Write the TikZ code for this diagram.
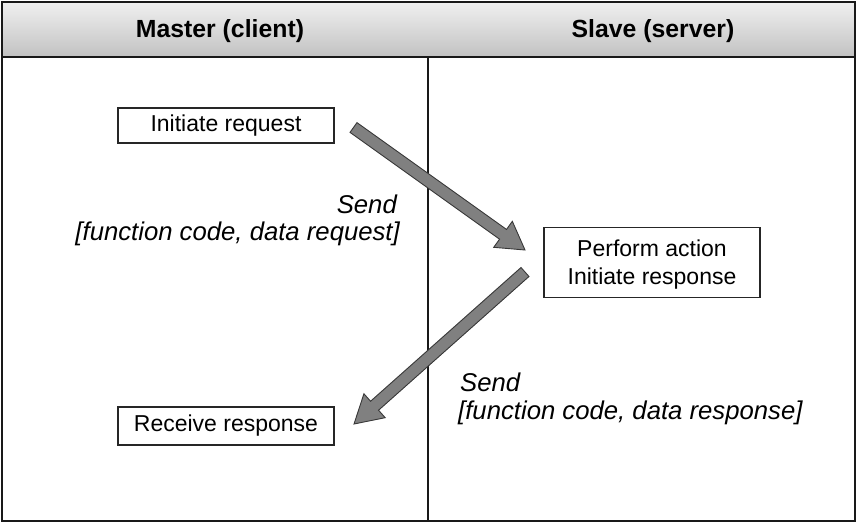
\documentclass[tikz,border=0pt]{standalone}
\usepackage{fontspec}
\setmainfont{Liberation Sans}
\usetikzlibrary{calc}
\tikzset{
  frame/.style={line width=2pt, draw=black!90},
  divider/.style={line width=1.6pt, draw=black!90},
  boxnode/.style={draw=black!85, line width=1.4pt, fill=white, inner sep=0pt,
    font=\fontsize{23}{27.5}\selectfont, align=center},
  headtext/.style={font=\bfseries\fontsize{24.8}{30}\selectfont, inner sep=0pt, anchor=base},
  captext/.style={font=\itshape\fontsize{25.7}{28}\selectfont, inner sep=0pt},
  blockarrow/.style={fill=black!50, draw=black!78, line width=0.9pt, line join=miter}
}
\begin{document}
\begin{tikzpicture}[x=1pt,y=-1pt]
\useasboundingbox (0,0) rectangle (858,525);
% header band
\shade[top color=black!6, bottom color=black!24] (2,2) rectangle (855,57);
\draw[frame] (2,57) -- (855,57);
\draw[frame] (2,2) rectangle (855,521);
\draw[divider] (428,57) -- (428,521);
% header texts
\node[headtext] (hm) at (220,37) {Master (client)};
\node[headtext] (hs) at (653,37) {Slave (server)};
% boxes
\node[boxnode, minimum width=216pt, minimum height=35pt] (req) at (226,125.5) {Initiate request};
\node[boxnode, minimum width=216pt, minimum height=70pt] (act) at (652,262.5) {\rule{0pt}{21pt}Perform action\\Initiate response};
\node[boxnode, minimum width=216pt, minimum height=38pt] (rcv) at (226,426) {Receive response};
% captions
\node[captext, anchor=base east] (s1) at (397,213) {Send};
\node[captext, anchor=base east] (f1) at (400,240) {[function code, data request]};
\node[captext, anchor=base west] (s2) at (460,391) {Send};
\node[captext, anchor=base west] (f2) at (458,419) {[function code, data response]};
% arrow 1
\coordinate (a1s) at (353.5,127.5);
\coordinate (a1e) at (525,250);
\coordinate (a1n) at ($(a1e)!27pt!(a1s)$);
\draw[blockarrow] ($(a1s)!6pt!90:(a1e)$) -- ($(a1n)!6pt!90:(a1e)$) -- ($(a1n)!16pt!90:(a1e)$)
  -- (a1e) -- ($(a1n)!16pt!-90:(a1e)$) -- ($(a1n)!6pt!-90:(a1e)$) -- ($(a1s)!6pt!-90:(a1e)$) -- cycle;
% arrow 2
\coordinate (a2s) at (525,272);
\coordinate (a2e) at (354,424);
\coordinate (a2n) at ($(a2e)!27.5pt!(a2s)$);
\draw[blockarrow] ($(a2s)!6pt!90:(a2e)$) -- ($(a2n)!6pt!90:(a2e)$) -- ($(a2n)!16pt!90:(a2e)$)
  -- (a2e) -- ($(a2n)!16pt!-90:(a2e)$) -- ($(a2n)!6pt!-90:(a2e)$) -- ($(a2s)!6pt!-90:(a2e)$) -- cycle;
\end{tikzpicture}
\end{document}
